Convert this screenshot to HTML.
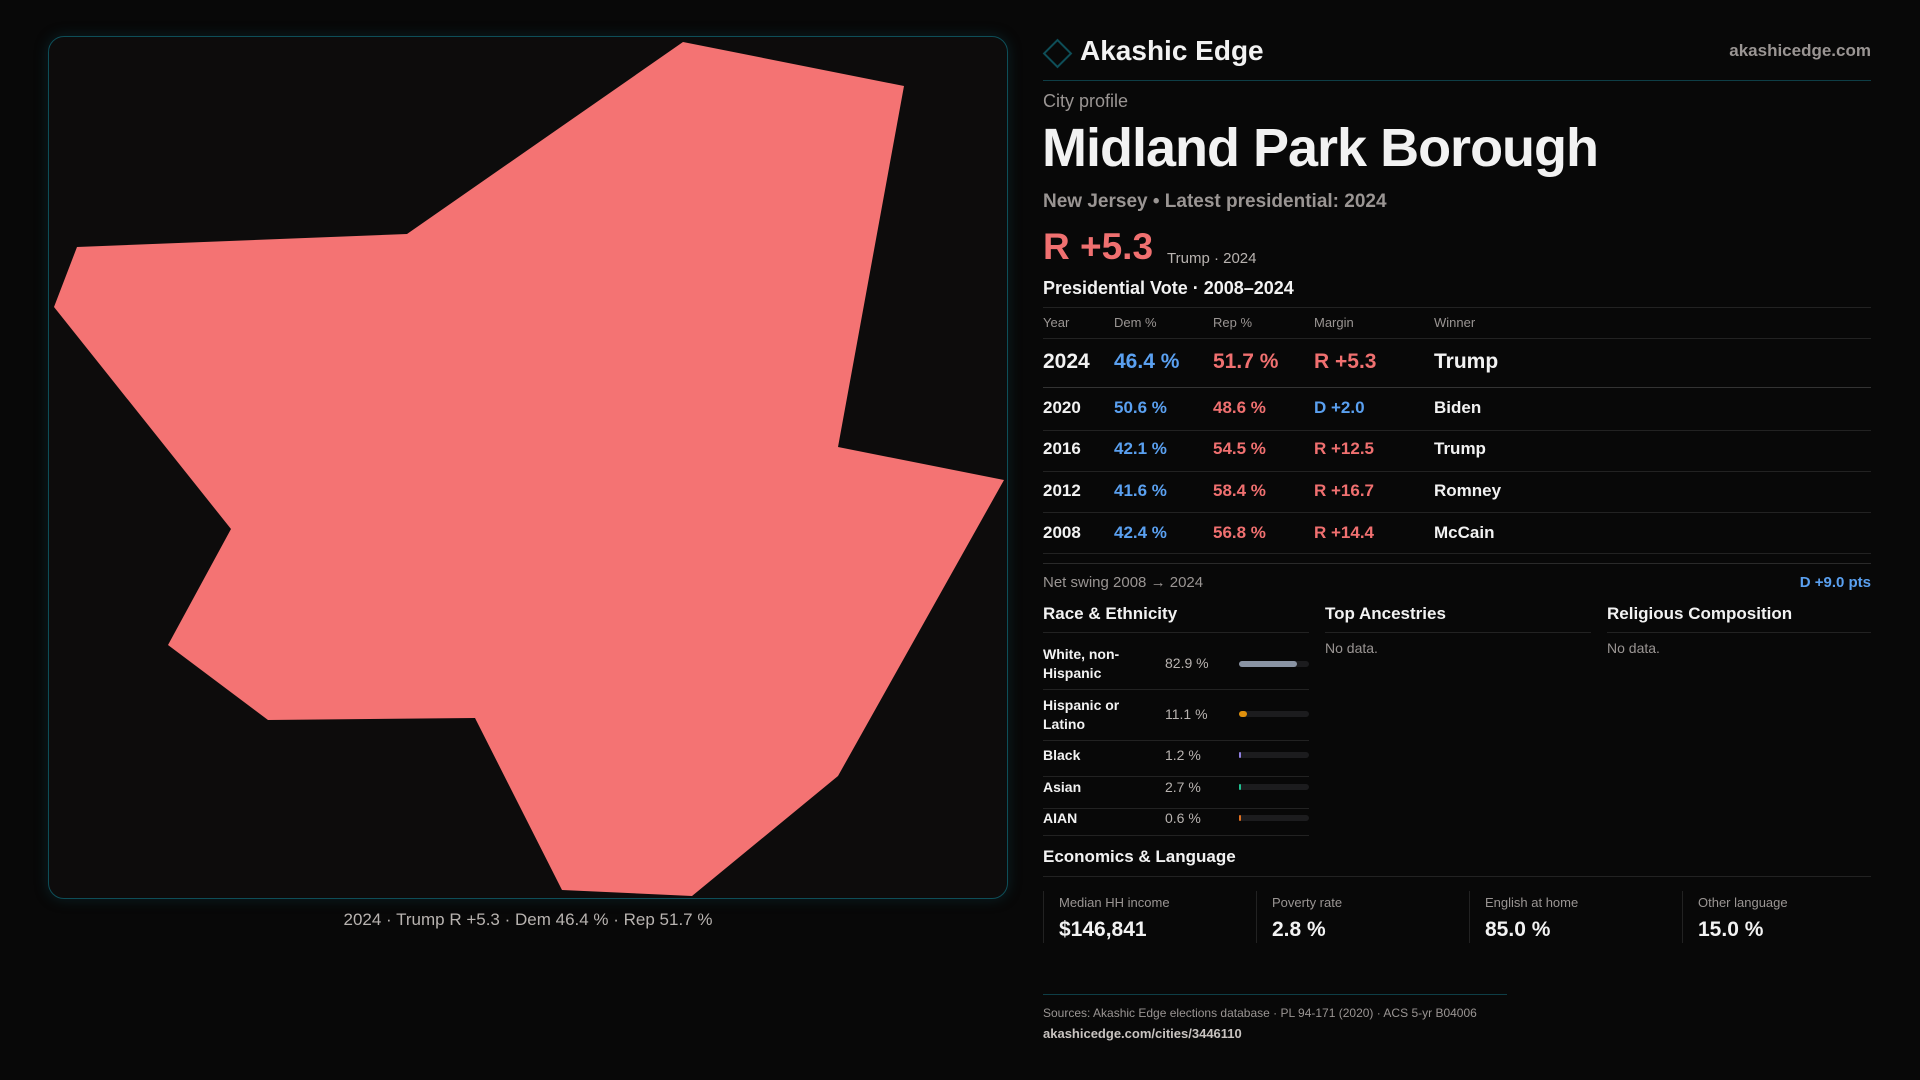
<!DOCTYPE html>
<html><head><meta charset="utf-8"><style>
*{margin:0;padding:0;box-sizing:border-box}
body{width:1920px;height:1080px;background:#080808;font-family:"Liberation Sans",sans-serif;color:#f2f2f2;position:relative;overflow:hidden}
.a{position:absolute;white-space:nowrap;line-height:1}
.panel{position:absolute;left:48px;top:36px;width:960px;height:863px;border:1.5px solid #0e4e58;border-radius:16px;background:#0d0c0c;box-shadow:0 0 14px rgba(14,78,88,.35)}
.hl{position:absolute;height:1px;background:#222}
.g{color:#9a9593}
.b{color:#5aa0f0}.r{color:#f07070}
.bar{position:absolute;left:1239px;width:70px;height:6px;border-radius:3px;background:#1c1c1e}
.bar i{position:absolute;left:0;top:0;height:6px;border-radius:3px}
.card{position:absolute;top:891px;width:213px;height:52px;border-left:1px solid #222}
.card .l{position:absolute;left:15px;top:4px;font-size:13px;color:#9a9593}
.card .v{position:absolute;left:15px;top:27px;font-size:21px;font-weight:bold;color:#f2f2f2}
</style></head><body>
<div class="panel"></div>
<svg style="position:absolute;left:0;top:0" width="1920" height="1080">
<polygon fill="#f47373" points="683,42 904,86 838,447 1004,480 838,776 692,896 562,890 475,718 268,720 168,645 231,529 54,307 77,247 407,234"/>
<rect x="1048" y="44" width="19" height="19" transform="rotate(45 1057.5 53.5)" fill="none" stroke="#0e4e58" stroke-width="2"/>
</svg>
<div class="a" style="left:0;width:1056px;text-align:center;top:911px;font-size:17px;color:#b8b3b0">2024 · Trump R +5.3 · Dem 46.4 % · Rep 51.7 %</div>

<div class="a" style="left:1080px;top:37px;font-size:28px;font-weight:bold">Akashic Edge</div>
<div class="a g" style="right:49px;top:42px;font-size:17px;font-weight:bold">akashicedge.com</div>
<div class="hl" style="left:1043px;width:828px;top:80px;background:#0e3e46"></div>
<div class="a g" style="left:1043px;top:92px;font-size:18px">City profile</div>
<div class="a" style="left:1042px;top:121px;font-size:54px;font-weight:bold;letter-spacing:-1px">Midland Park Borough</div>
<div class="a g" style="left:1043px;top:192px;font-size:19px;font-weight:bold">New Jersey • Latest presidential: 2024</div>
<div class="a r" style="left:1043px;top:228px;font-size:37px;font-weight:bold">R +5.3</div>
<div class="a" style="left:1167px;top:251px;font-size:15px;color:#b8b3b0">Trump · 2024</div>
<div class="a" style="left:1043px;top:279px;font-size:18px;font-weight:bold">Presidential Vote · 2008–2024</div>
<div class="hl" style="left:1043px;width:828px;top:307px"></div>
<div class="a g" style="left:1043px;top:316px;font-size:13px">Year</div>
<div class="a g" style="left:1114px;top:316px;font-size:13px">Dem %</div>
<div class="a g" style="left:1213px;top:316px;font-size:13px">Rep %</div>
<div class="a g" style="left:1314px;top:316px;font-size:13px">Margin</div>
<div class="a g" style="left:1434px;top:316px;font-size:13px">Winner</div>
<div class="hl" style="left:1043px;width:828px;top:338px"></div>
<div class="a" style="left:1043px;top:351px;font-size:21px;font-weight:bold">2024</div>
<div class="a b" style="left:1114px;top:351px;font-size:21px;font-weight:bold">46.4 %</div>
<div class="a r" style="left:1213px;top:351px;font-size:21px;font-weight:bold">51.7 %</div>
<div class="a r" style="left:1314px;top:351px;font-size:21px;font-weight:bold">R +5.3</div>
<div class="a" style="left:1434px;top:351px;font-size:21px;font-weight:bold">Trump</div>
<div class="hl" style="left:1043px;width:828px;top:387px;background:#333"></div>
<div class="a" style="left:1043px;top:399px;font-size:17px;font-weight:bold">2020</div>
<div class="a b" style="left:1114px;top:399px;font-size:17px;font-weight:bold">50.6 %</div>
<div class="a r" style="left:1213px;top:399px;font-size:17px;font-weight:bold">48.6 %</div>
<div class="a b" style="left:1314px;top:399px;font-size:17px;font-weight:bold">D +2.0</div>
<div class="a" style="left:1434px;top:399px;font-size:17px;font-weight:bold">Biden</div>
<div class="hl" style="left:1043px;width:828px;top:430px"></div>
<div class="a" style="left:1043px;top:440px;font-size:17px;font-weight:bold">2016</div>
<div class="a b" style="left:1114px;top:440px;font-size:17px;font-weight:bold">42.1 %</div>
<div class="a r" style="left:1213px;top:440px;font-size:17px;font-weight:bold">54.5 %</div>
<div class="a r" style="left:1314px;top:440px;font-size:17px;font-weight:bold">R +12.5</div>
<div class="a" style="left:1434px;top:440px;font-size:17px;font-weight:bold">Trump</div>
<div class="hl" style="left:1043px;width:828px;top:471px"></div>
<div class="a" style="left:1043px;top:482px;font-size:17px;font-weight:bold">2012</div>
<div class="a b" style="left:1114px;top:482px;font-size:17px;font-weight:bold">41.6 %</div>
<div class="a r" style="left:1213px;top:482px;font-size:17px;font-weight:bold">58.4 %</div>
<div class="a r" style="left:1314px;top:482px;font-size:17px;font-weight:bold">R +16.7</div>
<div class="a" style="left:1434px;top:482px;font-size:17px;font-weight:bold">Romney</div>
<div class="hl" style="left:1043px;width:828px;top:512px"></div>
<div class="a" style="left:1043px;top:524px;font-size:17px;font-weight:bold">2008</div>
<div class="a b" style="left:1114px;top:524px;font-size:17px;font-weight:bold">42.4 %</div>
<div class="a r" style="left:1213px;top:524px;font-size:17px;font-weight:bold">56.8 %</div>
<div class="a r" style="left:1314px;top:524px;font-size:17px;font-weight:bold">R +14.4</div>
<div class="a" style="left:1434px;top:524px;font-size:17px;font-weight:bold">McCain</div>
<div class="hl" style="left:1043px;width:828px;top:553px"></div>
<div class="hl" style="left:1043px;width:828px;top:563px;background:#2a2a2a"></div>
<div class="a g" style="left:1043px;top:575px;font-size:15px">Net swing 2008 → 2024</div>
<div class="a b" style="right:49px;top:575px;font-size:15px;font-weight:bold">D +9.0 pts</div>

<div class="a" style="left:1043px;top:605px;font-size:17px;font-weight:bold">Race &amp; Ethnicity</div>
<div class="a" style="left:1325px;top:605px;font-size:17px;font-weight:bold">Top Ancestries</div>
<div class="a" style="left:1607px;top:605px;font-size:17px;font-weight:bold">Religious Composition</div>
<div class="hl" style="left:1043px;width:266px;top:632px"></div>
<div class="hl" style="left:1325px;width:266px;top:632px"></div>
<div class="hl" style="left:1607px;width:264px;top:632px"></div>
<div class="a g" style="left:1325px;top:641px;font-size:14px">No data.</div>
<div class="a g" style="left:1607px;top:641px;font-size:14px">No data.</div>

<div class="a" style="left:1043px;top:645px;font-size:14px;font-weight:bold;line-height:19px">White, non-<br>Hispanic</div>
<div class="a" style="left:1165px;top:656px;font-size:14px;color:#b8b3b0">82.9 %</div>
<div class="bar" style="top:661px"><i style="width:58px;background:#8a94a4"></i></div>
<div class="hl" style="left:1043px;width:266px;top:689px"></div>
<div class="a" style="left:1043px;top:696px;font-size:14px;font-weight:bold;line-height:19px">Hispanic or<br>Latino</div>
<div class="a" style="left:1165px;top:707px;font-size:14px;color:#b8b3b0">11.1 %</div>
<div class="bar" style="top:711px"><i style="width:8px;background:#e0900c"></i></div>
<div class="hl" style="left:1043px;width:266px;top:740px"></div>
<div class="a" style="left:1043px;top:748px;font-size:14px;font-weight:bold">Black</div>
<div class="a" style="left:1165px;top:748px;font-size:14px;color:#b8b3b0">1.2 %</div>
<div class="bar" style="top:752px"><i style="width:2px;background:#9080e0"></i></div>
<div class="hl" style="left:1043px;width:266px;top:776px"></div>
<div class="a" style="left:1043px;top:780px;font-size:14px;font-weight:bold">Asian</div>
<div class="a" style="left:1165px;top:780px;font-size:14px;color:#b8b3b0">2.7 %</div>
<div class="bar" style="top:784px"><i style="width:2px;background:#20c090"></i></div>
<div class="hl" style="left:1043px;width:266px;top:808px"></div>
<div class="a" style="left:1043px;top:811px;font-size:14px;font-weight:bold">AIAN</div>
<div class="a" style="left:1165px;top:811px;font-size:14px;color:#b8b3b0">0.6 %</div>
<div class="bar" style="top:815px"><i style="width:2px;background:#e07020"></i></div>
<div class="hl" style="left:1043px;width:266px;top:835px"></div>

<div class="a" style="left:1043px;top:848px;font-size:17px;font-weight:bold">Economics &amp; Language</div>
<div class="hl" style="left:1043px;width:828px;top:876px"></div>
<div class="card" style="left:1043px"><div class="l">Median HH income</div><div class="v">$146,841</div></div>
<div class="card" style="left:1256px"><div class="l">Poverty rate</div><div class="v">2.8 %</div></div>
<div class="card" style="left:1469px"><div class="l">English at home</div><div class="v">85.0 %</div></div>
<div class="card" style="left:1682px"><div class="l">Other language</div><div class="v">15.0 %</div></div>

<div class="hl" style="left:1043px;width:464px;top:994px;background:#0e3e46"></div>
<div class="a g" style="left:1043px;top:1007px;font-size:12px">Sources: Akashic Edge elections database · PL 94-171 (2020) · ACS 5-yr B04006</div>
<div class="a" style="left:1043px;top:1027px;font-size:13px;color:#c8c3c0;font-weight:bold">akashicedge.com/cities/3446110</div>
</body></html>
